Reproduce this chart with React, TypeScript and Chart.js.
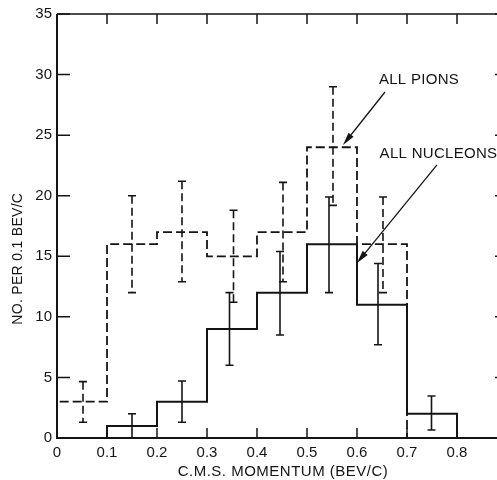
import React, { useEffect, useRef } from "react";
import { Chart, registerables } from "chart.js";

Chart.register(...registerables);

// ---- data ----
const binEdges = [0, 0.1, 0.2, 0.3, 0.4, 0.5, 0.6, 0.7, 0.8];
const pionCounts = [3, 16, 17, 15, 17, 24, 16];
const nucleonCounts = [0, 1, 3, 9, 12, 16, 11, 2];

const pionErrX = [0.052, 0.15, 0.25, 0.353, 0.452, 0.552, 0.652];
const pionErrLow = [1.3, 12, 12.9, 11.2, 12.9, 19.2, 12];
const pionErrHigh = [4.65, 20, 21.2, 18.8, 21.1, 29, 19.9];

const nucleonErrX = [0.15, 0.25, 0.345, 0.446, 0.544, 0.642, 0.749];
const nucleonErrLow = [0, 1.3, 6, 8.5, 12, 7.7, 0.66];
const nucleonErrHigh = [2, 4.7, 12, 15.4, 19.9, 14.4, 3.47];

const xTickValues = [0, 0.1, 0.2, 0.3, 0.4, 0.5, 0.6, 0.7, 0.8];
const xTickLabels = ["0", "0.1", "0.2", "0.3", "0.4", "0.5", "0.6", "0.7", "0.8"];
const yTickValues = [0, 5, 10, 15, 20, 25, 30, 35];

const labelTexts = ["ALL PIONS", "ALL NUCLEONS"];
const labelPos = [
  [0.724, 29.6],
  [0.763, 23.44],
];
const arrowFrom = [
  [0.656, 28.56],
  [0.76, 22.54],
];
const arrowTo = [
  [0.572, 24.19],
  [0.6, 14.45],
];

const xTitle = "C.M.S. MOMENTUM (BEV/C)";
const yTitle = "NO. PER 0.1 BEV/C";

const FONT = "'Liberation Sans', Arial, sans-serif";
const INK = "#141414";

function stepPoints(edges: number[], counts: number[]) {
  const pts: { x: number; y: number }[] = [{ x: edges[0], y: 0 }];
  for (let i = 0; i < counts.length; i++) pts.push({ x: edges[i], y: counts[i] });
  pts.push({ x: edges[counts.length], y: 0 });
  return pts;
}

const decorPlugin = {
  id: "decor",
  afterDatasetsDraw(chart: any) {
    const { ctx, chartArea, scales } = chart;
    const xs = scales.x;
    const ys = scales.y;
    const L = chartArea.left, R = chartArea.right, T = chartArea.top, B = chartArea.bottom;
    ctx.save();
    ctx.strokeStyle = INK;
    ctx.fillStyle = INK;
    ctx.lineCap = "butt";

    // error bars
    const drawErr = (xv: number[], lo: number[], hi: number[], dashed: boolean) => {
      for (let i = 0; i < xv.length; i++) {
        const px = xs.getPixelForValue(xv[i]);
        const p1 = ys.getPixelForValue(lo[i]);
        const p2 = ys.getPixelForValue(hi[i]);
        ctx.lineWidth = 1.6;
        ctx.setLineDash(dashed ? [8, 4] : []);
        ctx.beginPath();
        ctx.moveTo(px, p2);
        ctx.lineTo(px, p1);
        ctx.stroke();
        ctx.setLineDash([]);
        ctx.lineWidth = 1.6;
        ctx.beginPath();
        ctx.moveTo(px - 4, p2);
        ctx.lineTo(px + 4, p2);
        if (lo[i] > 0.01) {
          ctx.moveTo(px - 4, p1);
          ctx.lineTo(px + 4, p1);
        }
        ctx.stroke();
      }
    };
    drawErr(pionErrX, pionErrLow, pionErrHigh, true);
    drawErr(nucleonErrX, nucleonErrLow, nucleonErrHigh, false);

    // frame
    ctx.setLineDash([]);
    ctx.lineWidth = 2;
    ctx.beginPath();
    ctx.moveTo(L, T);
    ctx.lineTo(L, B);
    ctx.lineTo(R, B);
    ctx.stroke();
    ctx.lineWidth = 1.5;
    ctx.beginPath();
    ctx.moveTo(L, T);
    ctx.lineTo(R, T);
    ctx.lineTo(R, B);
    ctx.stroke();

    // inward ticks
    ctx.lineWidth = 1.5;
    ctx.beginPath();
    for (const v of yTickValues) {
      const py = ys.getPixelForValue(v);
      ctx.moveTo(L, py);
      ctx.lineTo(L + 13, py);
      ctx.moveTo(R, py);
      ctx.lineTo(R - 12, py);
    }
    for (const v of xTickValues) {
      const px = xs.getPixelForValue(v);
      ctx.moveTo(px, B);
      ctx.lineTo(px, B - 10);
      ctx.moveTo(px, T);
      ctx.lineTo(px, T + 10);
    }
    ctx.stroke();

    // annotations
    ctx.font = `15px ${FONT}`;
    ctx.textAlign = "center";
    ctx.textBaseline = "middle";
    (ctx as any).letterSpacing = "0.3px";
    for (let i = 0; i < labelTexts.length; i++) {
      ctx.fillText(
        labelTexts[i],
        xs.getPixelForValue(labelPos[i][0]),
        ys.getPixelForValue(labelPos[i][1])
      );
      const x1 = xs.getPixelForValue(arrowFrom[i][0]);
      const y1 = ys.getPixelForValue(arrowFrom[i][1]);
      const x2 = xs.getPixelForValue(arrowTo[i][0]);
      const y2 = ys.getPixelForValue(arrowTo[i][1]);
      const ang = Math.atan2(y2 - y1, x2 - x1);
      const hl = 13, hw = 3.2;
      const bx = x2 - hl * Math.cos(ang);
      const by = y2 - hl * Math.sin(ang);
      ctx.lineWidth = 1.3;
      ctx.beginPath();
      ctx.moveTo(x1, y1);
      ctx.lineTo(bx, by);
      ctx.stroke();
      ctx.beginPath();
      ctx.moveTo(x2, y2);
      ctx.lineTo(bx + hw * Math.sin(ang), by - hw * Math.cos(ang));
      ctx.lineTo(bx - hw * Math.sin(ang), by + hw * Math.cos(ang));
      ctx.closePath();
      ctx.fill();
    }

    // axis titles
    ctx.font = `15px ${FONT}`;
    (ctx as any).letterSpacing = "0.5px";
    ctx.fillText(xTitle, xs.getPixelForValue(0.452), B + 34);
    ctx.font = `14px ${FONT}`;
    (ctx as any).letterSpacing = "0.3px";
    ctx.save();
    ctx.translate(L - 39, ys.getPixelForValue(14.8));
    ctx.rotate(-Math.PI / 2);
    ctx.fillText(yTitle, 0, 0);
    ctx.restore();

    ctx.restore();
  },
};

export default function App() {
  const ref = useRef<HTMLCanvasElement>(null);
  useEffect(() => {
    document.body.style.margin = "0";
    document.body.style.overflow = "hidden";
    if (!ref.current) return;
    const chart = new Chart(ref.current, {
      type: "line",
      data: {
        datasets: [
          {
            label: "ALL PIONS",
            data: stepPoints(binEdges, pionCounts),
            stepped: "before",
            borderColor: INK,
            borderWidth: 1.8,
            borderDash: [9, 4],
            pointRadius: 0,
            fill: false,
          },
          {
            label: "ALL NUCLEONS",
            data: stepPoints(binEdges, nucleonCounts),
            stepped: "before",
            borderColor: INK,
            borderWidth: 2,
            pointRadius: 0,
            fill: false,
          },
        ],
      },
      options: {
        responsive: false,
        animation: false,
        layout: { padding: { top: 14, right: 3, left: 0, bottom: 0 } },
        plugins: { legend: { display: false }, tooltip: { enabled: false } },
        scales: {
          x: {
            type: "linear",
            min: 0,
            max: 0.9,
            afterFit: (s: any) => {
              s.height = 42;
            },
            afterBuildTicks: (s: any) => {
              s.ticks = xTickValues.map((v) => ({ value: v }));
            },
            grid: { display: false, drawTicks: false },
            border: { display: false },
            ticks: {
              padding: 6,
              color: INK,
              font: { family: FONT, size: 15 },
              maxRotation: 0,
              autoSkip: false,
              callback: (v: any) => {
                const i = xTickValues.findIndex((t) => Math.abs(t - v) < 1e-6);
                return i >= 0 ? xTickLabels[i] : "";
              },
            },
          },
          y: {
            type: "linear",
            min: 0,
            max: 35,
            afterFit: (s: any) => {
              s.width = 57;
            },
            afterBuildTicks: (s: any) => {
              s.ticks = yTickValues.map((v) => ({ value: v }));
            },
            grid: { display: false, drawTicks: false },
            border: { display: false },
            ticks: {
              padding: 5,
              color: INK,
              font: { family: FONT, size: 15 },
            },
          },
        },
      },
      plugins: [decorPlugin],
    });
    return () => chart.destroy();
  }, []);
  return (
    <div style={{ width: 497, height: 480, overflow: "hidden", background: "#fff" }}>
      <canvas ref={ref} width={510} height={480} style={{ display: "block" }} />
    </div>
  );
}
